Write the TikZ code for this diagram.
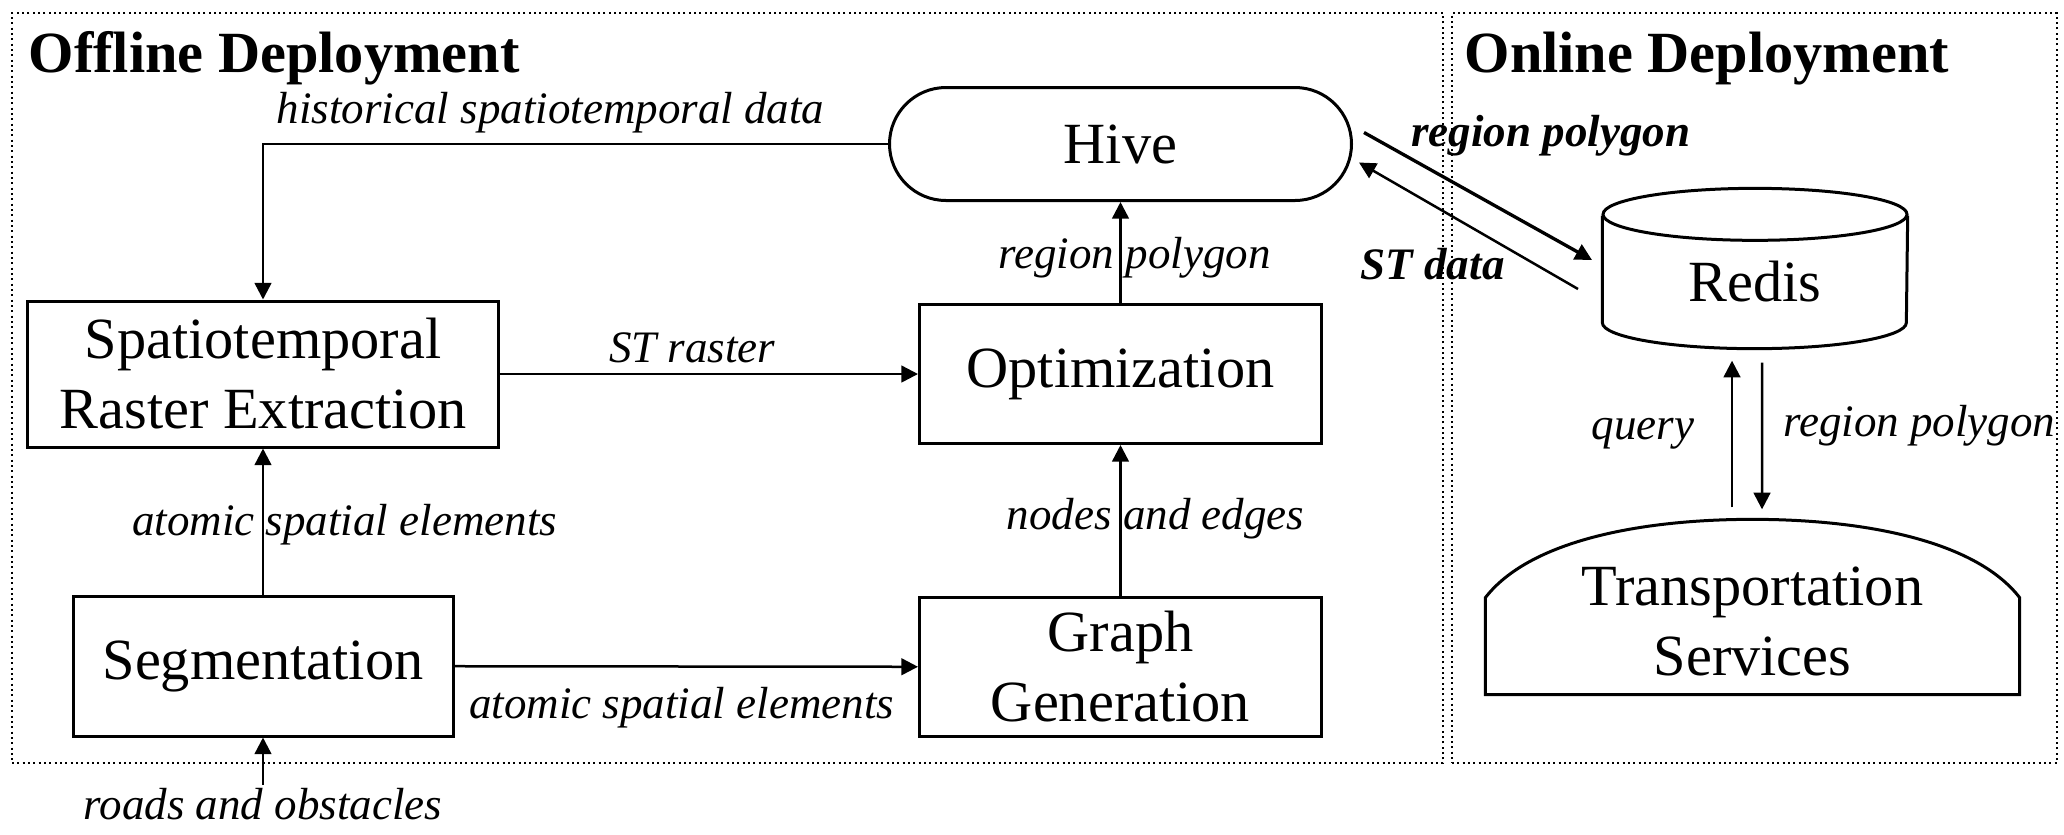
\documentclass[tikz,border=0pt]{standalone}
\usepackage{fontspec}
\setmainfont{Liberation Serif}
\usetikzlibrary{arrows.meta,positioning,calc}
\newcommand{\boxfont}{\fontsize{17.5}{21}\selectfont}
\newcommand{\lblfont}{\fontsize{13.5}{16}\selectfont\itshape}

\begin{document}
\begin{tikzpicture}[
   x=0.3pt,y=-0.3pt,
   deploy/.style={draw,densely dotted,line width=0.6pt,inner sep=0pt},
   hd/.style={font=\fontsize{17.5}{20}\selectfont\bfseries,inner sep=0pt},
   stage/.style={draw,line width=0.9pt,inner sep=0pt,align=center,font=\boxfont},
   lbl/.style={font=\lblfont,inner sep=3pt},
   blbl/.style={font=\lblfont\bfseries,inner sep=0pt},
   ar/.style={-{Triangle[length=5pt,width=5pt]},line width=0.75pt}]
  \useasboundingbox (0,0) rectangle (2064,834);
  % the two deployment frames
  \node[deploy,minimum width=429.3pt,minimum height=225pt] (offline) at (727.5,388) {};
  \node[deploy,minimum width=181.5pt,minimum height=225pt] (online) at (1754.5,388) {};
  \node[hd,below right=5.7pt and 5.1pt of offline.north west] (offtitle) {Offline Deployment};
  \node[hd,below right=5.7pt and 3.9pt of online.north west] (ontitle) {Online Deployment};
  % offline pipeline
  \node[stage,minimum width=141.3pt,minimum height=43.8pt] (sre) at (263,374)
       {Spatiotemporal\\Raster Extraction};
  \node[stage,minimum width=114pt,minimum height=42pt,below=43.8pt of sre] (seg) {Segmentation};
  \node[stage,minimum width=120.6pt,minimum height=41.7pt,right=125.4pt of sre] (opt) {Optimization};
  \node[stage,minimum width=120.6pt,minimum height=41.7pt,below=45.3pt of opt] (graph) {Graph\\Generation};
  \node[stage,rounded corners=16.95pt,minimum width=138.6pt,minimum height=33.9pt,
        above=30.3pt of opt] (hive) {Hive};
  \node[lbl,inner sep=1pt,below=14.1pt of seg] (roads) {roads and obstacles};
  % online side
  \node[font=\boxfont,inner sep=0pt,minimum width=91.2pt,minimum height=24.3pt] (redis)
       at (1755,281.5) {Redis};
  \draw[line width=0.9pt] ($(redis.south west)+(0,-107)$) -- (redis.south west)
     arc[start angle=180,end angle=360,x radius=45.6pt,y radius=7.8pt]
     -- ($(redis.south east)+(0,-107)$);
  \draw[line width=0.9pt] ($(redis.north)+(0,-26)$) ellipse[x radius=45.6pt,y radius=7.8pt];
  \node[align=center,font=\boxfont,inner sep=0pt,minimum width=159.9pt,
        minimum height=43.8pt] (trans) at (1752.5,621) {Transportation\\Services};
  \draw[line width=0.9pt] (trans.south west) -- ($(trans.south west)+(0,-97)$)
     .. controls +(44,-57) and +(-112,0) .. ($(trans.north)+(0,-28)$)
     .. controls +(112,0) and +(-44,-57) .. ($(trans.south east)+(0,-97)$)
     -- (trans.south east) -- cycle;
  % connectors
  \draw[ar] (hive.west) -| (sre.north)
     node[lbl,pos=0.27,above] (lhist) {historical spatiotemporal data};
  \draw[ar] (sre) -- node[lbl,above,pos=0.46] (lraster) {ST raster} (opt);
  \draw[ar] (seg.north) -- node[lbl,pos=0.48,xshift=24.5pt] (latom) {atomic spatial elements} (sre.south);
  \draw[ar] (seg) -- node[lbl,below=3pt,pos=0.49] (latom2) {atomic spatial elements} (graph);
  \draw[ar] (graph) -- node[lbl,pos=0.51,xshift=10.5pt] (ledges) {nodes and edges} (opt);
  \draw[ar] (opt) -- node[lbl,pos=0.45,xshift=4.2pt] (lpoly) {region polygon} (hive);
  \draw[ar] (roads) -- (seg);
  \draw[ar,line width=1pt] ($(hive.east)+(11,-11.5)$) --
     node[blbl,pos=0.2,above right] (lpolyon) {region polygon} ($(redis.center)+(-163,-21.5)$);
  \draw[ar] ($(redis.center)+(-177,7.5)$) --
     node[blbl,pos=0.33,below left] (ldata) {ST data} ($(hive.east)+(6,18.5)$);
  \draw[ar] ($(trans.north)+(-20.5,-40)$) --
     node[lbl,left=8pt] (lquery) {query} ($(redis.south)+(-23,38)$);
  \draw[ar] ($(redis.south)+(7,40)$) --
     node[lbl,right=3pt,pos=0.43] (lpolyq) {region polygon} ($(trans.north)+(9.5,-38)$);
\end{tikzpicture}
\end{document}
